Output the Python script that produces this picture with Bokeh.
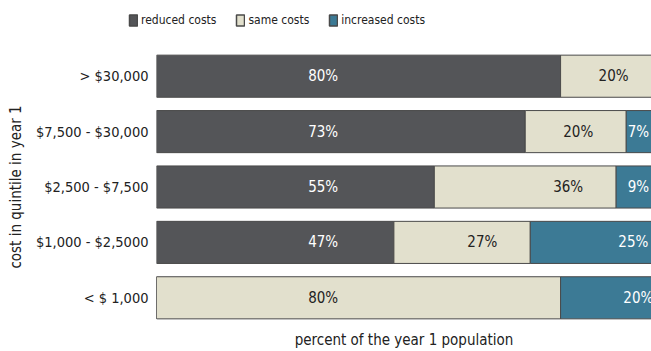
from bokeh.plotting import figure
from bokeh.layouts import column
from bokeh.models import ColumnDataSource, FactorRange, Range1d, Legend, LegendItem, FixedTicker
from bokeh.core.properties import value
from bokeh.embed import file_html
from bokeh.resources import INLINE

# ---- data ----
categories = ["< $ 1,000", "$1,000 - $2,5000", "$2,500 - $7,500", "$7,500 - $30,000", "> $30,000"]
reduced = [0, 47, 55, 73, 80]
same = [80, 27, 36, 20, 20]
increased = [20, 25, 9, 7, 0]
series_keys = ["reduced", "same", "increased"]
series_labels = ["reduced costs", "same costs", "increased costs"]

# ---- style ----
FONT = "DejaVu Sans Condensed"
fills = ["#545558", "#E2E0CD", "#3C7A95"]
outline = "#4a4a4a"
text_colors = ["#ffffff", "#222222", "#ffffff"]
label_offsets = [None, 9.5, 4.6]   # label placement relative to segment end
FIRST_LABEL_X = 33

# ---- legend strip ----
lf = figure(width=651, height=48, output_backend="svg", toolbar_location=None,
            x_range=Range1d(0, 1), y_range=Range1d(0, 1), min_border=0,
            x_axis_location=None, y_axis_location=None)
lf.frame_align = False
lf.outline_line_color = None
lf.xgrid.visible = False
lf.ygrid.visible = False
dummy = [lf.hbar(y=[-5], left=[0], right=[0], height=0.1, fill_color=c, line_color=outline,
                 line_width=1.5) for c in fills]
legend = Legend(items=[LegendItem(label=l, renderers=[r]) for l, r in zip(series_labels, dummy)],
                location=(128, 21), orientation="horizontal", glyph_width=10, glyph_height=14,
                label_height=14, label_standoff=3, spacing=19, padding=0, margin=0,
                border_line_color=None, background_fill_alpha=0,
                label_text_font=FONT, label_text_font_size="12px", label_text_color="#222222")
lf.add_layout(legend, "center")

# ---- main chart ----
p = figure(width=651, height=303, y_range=FactorRange(*categories, range_padding=0),
           x_range=Range1d(0, 98), output_backend="svg", toolbar_location=None,
           min_border_left=156, min_border_right=0, min_border_top=0, min_border_bottom=25)
p.frame_align = False
p.outline_line_color = None
p.xgrid.visible = False
p.ygrid.visible = False

src = ColumnDataSource(dict(cat=categories, reduced=reduced, same=same, increased=increased))
renderers = p.hbar_stack(series_keys, y="cat", height=0.76, fill_color=fills,
                         line_color=outline, line_width=1, source=src)

# bar labels
lab_x, lab_y, lab_t, lab_c = [], [], [], []
for i, cat in enumerate(categories):
    start = 0
    first = True
    for vals, tc, off in zip([reduced, same, increased], text_colors, label_offsets):
        v = vals[i]
        if v > 0:
            end = start + v
            lab_x.append(FIRST_LABEL_X if first else end - off)
            lab_y.append(cat)
            lab_t.append(f"{v}%")
            lab_c.append(tc)
            first = False
        start += v
lsrc = ColumnDataSource(dict(x=lab_x, y=lab_y, t=lab_t, c=lab_c))
p.text(x="x", y="y", text="t", text_color="c", source=lsrc, text_align="center",
       text_baseline="middle", text_font=value(FONT), text_font_size="15px")

# axes
p.xaxis.ticker = FixedTicker(ticks=[])
p.xaxis.axis_line_color = None
p.xaxis.major_tick_line_color = None
p.xaxis.minor_tick_line_color = None
p.xaxis.major_tick_out = 0
p.xaxis.major_label_standoff = 0
p.xaxis.axis_label = "percent of the year 1 population"
p.xaxis.axis_label_standoff = 5
p.xaxis.axis_label_text_font = FONT
p.xaxis.axis_label_text_font_style = "normal"
p.xaxis.axis_label_text_font_size = "15px"
p.xaxis.axis_label_text_color = "#222222"

p.yaxis.axis_line_color = None
p.yaxis.major_tick_line_color = None
p.yaxis.major_tick_out = 0
p.yaxis.major_label_standoff = 8
p.yaxis.major_label_text_font = FONT
p.yaxis.major_label_text_font_size = "14.5px"
p.yaxis.major_label_text_color = "#222222"
p.yaxis.axis_label = "cost in quintile in year 1"
p.yaxis.axis_label_standoff = 8
p.yaxis.axis_label_text_font = FONT
p.yaxis.axis_label_text_font_style = "normal"
p.yaxis.axis_label_text_font_size = "15px"
p.yaxis.axis_label_text_color = "#222222"

layout = column(lf, p, spacing=0)
open("out.html", "w").write(file_html(layout, INLINE))
